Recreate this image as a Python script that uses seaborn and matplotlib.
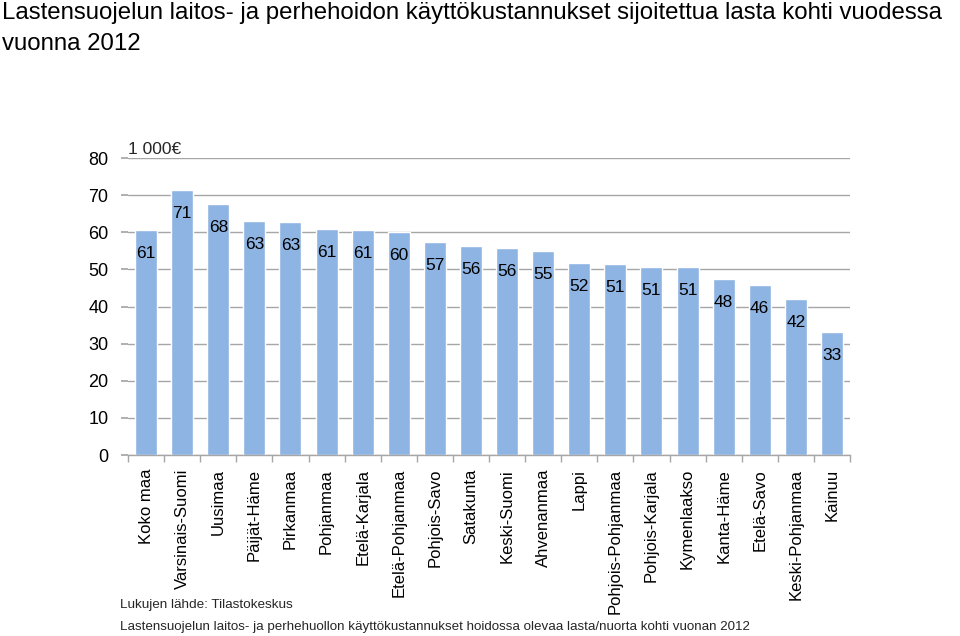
import matplotlib
matplotlib.use("Agg")
import matplotlib.pyplot as plt
import seaborn as sns
import pandas as pd
import numpy as np

# Data (1 000 EUR per child per year, 2012)
regions = ["Koko maa", "Varsinais-Suomi", "Uusimaa", "Päijät-Häme", "Pirkanmaa",
           "Pohjanmaa", "Etelä-Karjala", "Etelä-Pohjanmaa", "Pohjois-Savo", "Satakunta",
           "Keski-Suomi", "Ahvenanmaa", "Lappi", "Pohjois-Pohjanmaa", "Pohjois-Karjala",
           "Kymenlaakso", "Kanta-Häme", "Etelä-Savo", "Keski-Pohjanmaa", "Kainuu"]
costs = [60.6, 71.4, 67.6, 63.0, 62.8, 60.9, 60.6, 60.1, 57.4, 56.3,
         55.8, 55.0, 51.7, 51.4, 50.7, 50.6, 47.5, 45.8, 42.0, 33.1]
yticks = [0, 10, 20, 30, 40, 50, 60, 70, 80]

df = pd.DataFrame({"alue": regions, "kustannus": costs})

sns.set_theme(style="white")
plt.rcParams["font.family"] = ["Liberation Sans", "DejaVu Sans"]

fig = plt.figure(figsize=(9.6, 6.36), dpi=100)
ax = fig.add_axes([128 / 960, 1 - 455 / 636, 722 / 960, 297 / 636])

sns.barplot(data=df, x="alue", y="kustannus", color="#8EB4E3", saturation=1,
            width=0.61, ax=ax)

ax.set_ylim(0, 80)
ax.set_xlim(-0.5, len(regions) - 0.5)
ax.set_yticks(yticks)
ax.yaxis.grid(True, color="#A6A6A6", linewidth=1)
ax.set_axisbelow(True)
for s in ["top", "right", "left"]:
    ax.spines[s].set_visible(False)
ax.spines["bottom"].set_color("#A6A6A6")
ax.spines["bottom"].set_linewidth(1)

ax.tick_params(axis="y", length=5, color="#A6A6A6", labelsize=13, pad=9,
               labelcolor="black", left=True)
ax.set_xticks(np.arange(len(regions)))
ax.set_xticks(np.arange(-0.5, len(regions)), minor=True)
ax.set_xticklabels(regions, rotation=90, va="top", ha="center", fontsize=12)
ax.tick_params(axis="x", which="major", length=0, pad=10, labelcolor="black")
ax.tick_params(axis="x", which="minor", length=5, color="#A6A6A6", bottom=True)
ax.set_xlabel("")
ax.set_ylabel("")

for i, v in enumerate(costs):
    ax.annotate(f"{round(v)}", (i, v), xytext=(0, -17), textcoords="offset points",
                ha="center", va="center", fontsize=12.5, color="black")

ax.text(0, 1.005, "1 000€", transform=ax.transAxes, fontsize=12.5,
        ha="left", va="bottom")

fig.text(2 / 960, 1 - 2 / 636,
         "Lastensuojelun laitos- ja perhehoidon käyttökustannukset sijoitettua lasta kohti vuodessa\nvuonna 2012",
         ha="left", va="top", fontsize=17.3, linespacing=1.5, color="black")

fig.text(120 / 960, 1 - 605 / 636, "Lukujen lähde: Tilastokeskus",
         ha="left", va="center", fontsize=9.7)
fig.text(120 / 960, 1 - 627 / 636,
         "Lastensuojelun laitos- ja perhehuollon käyttökustannukset hoidossa olevaa lasta/nuorta kohti vuonan 2012",
         ha="left", va="center", fontsize=9.6)

fig.savefig("out.png", dpi=100)
